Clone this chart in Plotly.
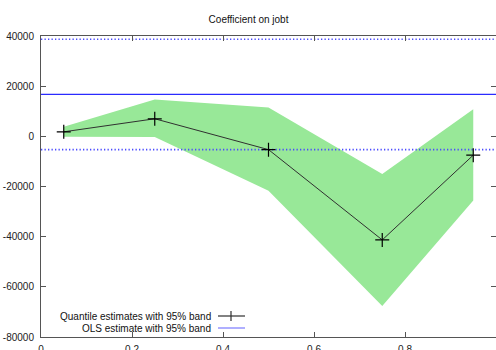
import plotly.graph_objects as go

# Quantile regression results for the coefficient on jobt
tau = [0.05, 0.25, 0.50, 0.75, 0.95]
coef = [1800, 7000, -5300, -41300, -7500]
band_hi = [3800, 14700, 11500, -15000, 10800]
band_lo = [-200, -300, -21700, -67600, -25600]

# OLS estimate and its 95% interval
ols_coef = 16700
ols_hi = 38700
ols_lo = -5300

x_span = [0, 1]
y_ticks = [40000, 20000, 0, -20000, -40000, -60000, -80000]
y_labels = ["40000", "20000", "0", "-20000", "-40000", "-60000", "-80000"]
x_ticks = [0, 0.2, 0.4, 0.6, 0.8, 1.0]
x_labels = ["0", "0.2", "0.4", "0.6", "0.8", "1"]

FONT = "Liberation Sans"
BLUE = "#2b2bff"
GREEN = "#98e898"
AXIS = "#555555"

fig = go.Figure()

# 95% band around the quantile estimates
fig.add_trace(go.Scatter(
    x=tau + tau[::-1],
    y=band_hi + band_lo[::-1],
    fill="toself", fillcolor=GREEN, line=dict(width=0),
    mode="lines", hoverinfo="skip", showlegend=False,
))

# OLS estimate and its band
fig.add_trace(go.Scatter(x=x_span, y=[ols_coef] * 2, mode="lines",
                         line=dict(color=BLUE, width=1.3), showlegend=False))
for v in (ols_hi, ols_lo):
    fig.add_trace(go.Scatter(x=x_span, y=[v] * 2, mode="lines",
                             line=dict(color="#4a4aff", width=1.6, dash="1.3px,2.2px"),
                             showlegend=False))

# Quantile estimates
fig.add_trace(go.Scatter(
    x=tau, y=coef, mode="lines+markers",
    line=dict(color="#303030", width=1),
    marker=dict(symbol="cross-thin", size=10, line=dict(color="#000000", width=1.2)),
    showlegend=False,
))

# Empty trace on the right-hand axis so its mirrored ticks get drawn
fig.add_trace(go.Scatter(x=[None], y=[None], yaxis="y2", showlegend=False,
                         hoverinfo="skip"))

# Key, drawn gnuplot-style with text to the left of the sample line
L, T, W, H = 41, 36, 455, 301
def px(x):
    return (x - L) / W
def py(y):
    return (T + H - y) / H

key = [("Quantile estimates with 95% band", "#303030", 316, True),
       ("OLS estimate with 95% band", "#7a7aff", 328, False)]
for text, color, y, cross in key:
    fig.add_annotation(text=text, xref="paper", yref="paper",
                       x=px(213), y=py(y), xanchor="right", yanchor="middle",
                       showarrow=False, font=dict(family=FONT, size=10, color="#111111"))
    fig.add_shape(type="line", xref="paper", yref="paper",
                  x0=px(218), x1=px(245), y0=py(y), y1=py(y),
                  line=dict(color=color, width=1.2))
    if cross:
        fig.add_shape(type="line", xref="paper", yref="paper",
                      x0=px(231), x1=px(231), y0=py(y - 5), y1=py(y + 5),
                      line=dict(color=color, width=1.2))

fig.update_layout(
    width=496, height=350,
    margin=dict(l=L, r=0, t=T, b=350 - T - H, autoexpand=False),
    plot_bgcolor="white", paper_bgcolor="white",
    font=dict(family=FONT, size=10, color="#222222"),
    title=dict(text="Coefficient on jobt", x=px(269), xanchor="center",
               y=1 - 19 / 350, yanchor="middle",
               font=dict(family=FONT, size=10, color="#111111")),
    xaxis=dict(range=[0, 1], tickvals=x_ticks, ticktext=x_labels,
               ticks="inside", ticklen=5, automargin=False,
               tickcolor=AXIS, showline=True, linecolor=AXIS, linewidth=1,
               mirror="ticks", showgrid=False, zeroline=False,
               ticklabelstandoff=3, tickfont=dict(family=FONT, size=10)),
    yaxis=dict(range=[-80000, 40000], tickvals=y_ticks, ticktext=y_labels,
               ticks="inside", ticklen=5, automargin=False,
               tickcolor=AXIS, showline=True, linecolor=AXIS, linewidth=1,
               mirror=False, showgrid=False, zeroline=False,
               ticklabelstandoff=4, tickfont=dict(family=FONT, size=10)),
    yaxis2=dict(range=[-80000, 40000], tickvals=y_ticks, overlaying="y",
                side="right", ticks="inside", ticklen=5, tickcolor=AXIS,
                showticklabels=False, showline=False, showgrid=False,
                zeroline=False, automargin=False),
    showlegend=False,
)

fig.write_html("out.html")
